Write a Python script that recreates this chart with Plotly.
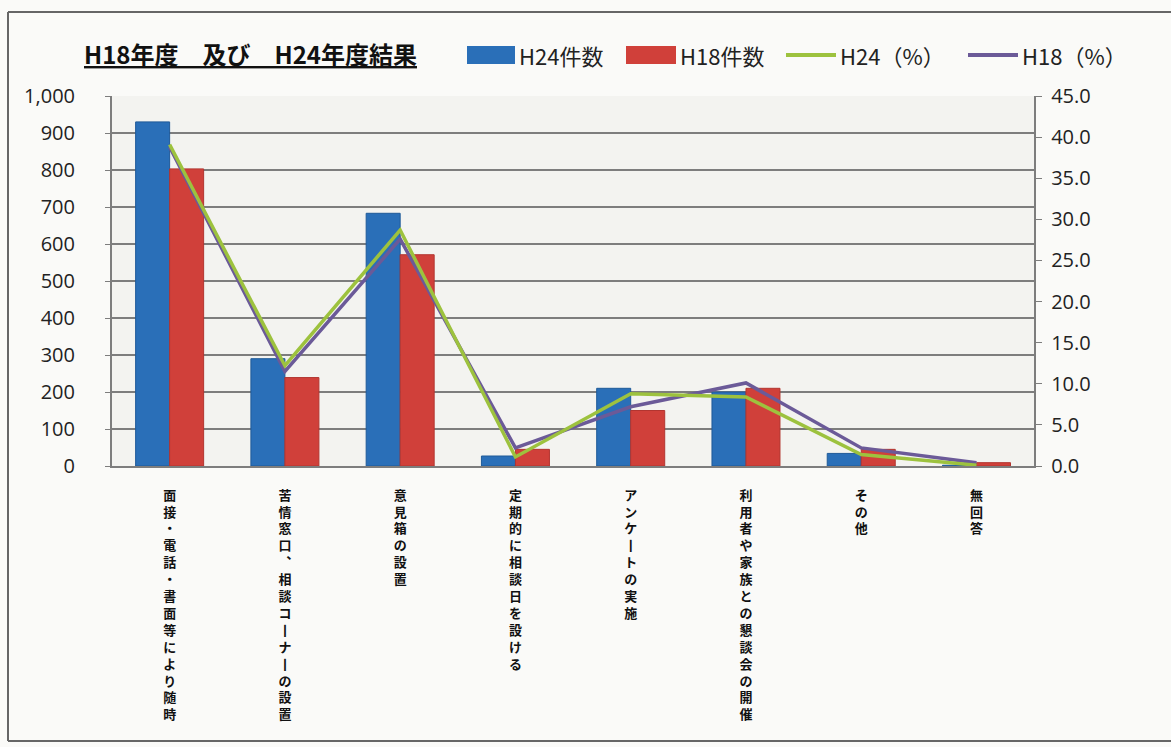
import plotly.graph_objects as go
from plotly.subplots import make_subplots

# ---- data ----
categories = [
    "面接・電話・書面等により随時",
    "苦情窓口、相談コーナーの設置",
    "意見箱の設置",
    "定期的に相談日を設ける",
    "アンケートの実施",
    "利用者や家族との懇談会の開催",
    "その他",
    "無回答",
]
h24_counts = [930, 290, 683, 27, 210, 200, 34, 2]
h18_counts = [803, 239, 571, 45, 150, 210, 45, 9]
h24_pct = [39.1, 12.2, 28.7, 1.1, 8.8, 8.4, 1.4, 0.1]
h18_pct = [38.8, 11.5, 27.6, 2.2, 7.2, 10.1, 2.2, 0.4]
count_ticks = [0, 100, 200, 300, 400, 500, 600, 700, 800, 900, 1000]
pct_ticks = [0, 5, 10, 15, 20, 25, 30, 35, 40, 45]

title_text = "H18年度　及び　H24年度結果"
legend_names = ["H24件数", "H18件数", "H24（%）", "H18（%）"]

# ---- styling ----
W, H = 1171, 747
ML, MR, MT, MB = 112, 78, 96, 281
PW, PH = W - ML - MR, H - MT - MB
BLUE, RED = "#2a6fb8", "#d0403a"
GREEN, PURPLE = "#9dc23e", "#6b5a98"
GRID = "#7d7d7d"
JP = "Noto Sans CJK JP"
NUM = "Open Sans"


def vertical(label):
    """Stack characters one per line, using upright forms for vertical text."""
    label = label.replace("ー", "丨").replace("、", "︑")
    return "<br>".join(label)


def px_x(x):
    return (x - ML) / PW


def px_y(y):
    return (H - MB - y) / PH


fig = make_subplots(specs=[[{"secondary_y": True}]])

fig.add_trace(go.Bar(x=categories, y=h24_counts, name=legend_names[0],
                     marker=dict(color=BLUE, line=dict(color="#1f5a98", width=1))),
              secondary_y=False)
fig.add_trace(go.Bar(x=categories, y=h18_counts, name=legend_names[1],
                     marker=dict(color=RED, line=dict(color="#b23530", width=1))),
              secondary_y=False)
fig.add_trace(go.Scatter(x=categories, y=h18_pct, name=legend_names[3], mode="lines",
                         line=dict(color=PURPLE, width=3.5)),
              secondary_y=True)
fig.add_trace(go.Scatter(x=categories, y=h24_pct, name=legend_names[2], mode="lines",
                         line=dict(color=GREEN, width=3.5)),
              secondary_y=True)

fig.update_layout(
    width=W, height=H,
    margin=dict(l=ML, r=MR, t=MT, b=MB),
    paper_bgcolor="#fafaf8",
    plot_bgcolor="#f3f3f0",
    barmode="group", bargap=0.41, bargroupgap=0,
    showlegend=False,
)

fig.update_xaxes(
    tickvals=categories,
    ticktext=[vertical(c) for c in categories],
    tickangle=0,
    tickfont=dict(family=JP, size=13, color="#111", weight="bold"),
    ticks="", ticklabelstandoff=16,
    showline=True, linecolor=GRID, linewidth=2,
    showgrid=False,
)
fig.update_yaxes(
    range=[0, 1000], tickvals=count_ticks, tickformat=",",
    tickfont=dict(family=NUM, size=20, color="#222"),
    ticks="outside", ticklen=5, tickcolor=GRID, ticklabelstandoff=26,
    showline=True, linecolor=GRID, linewidth=2,
    showgrid=True, gridcolor=GRID, gridwidth=2,
    zeroline=False,
    secondary_y=False,
)
fig.update_yaxes(
    range=[0, 45], tickvals=pct_ticks, tickformat=".1f",
    tickfont=dict(family=NUM, size=20, color="#222"),
    ticks="outside", ticklen=6, tickcolor=GRID, ticklabelstandoff=5,
    showline=True, linecolor=GRID, linewidth=2,
    showgrid=False, zeroline=False,
    secondary_y=True,
)

# title
fig.add_annotation(
    xref="paper", yref="paper", x=px_x(82), y=px_y(53),
    xanchor="left", yanchor="middle", showarrow=False,
    text="<b><u>" + title_text + "</u></b>",
    font=dict(family=JP, size=24, color="#111"),
)

# legend
shapes = []
legend_y = 55
items = [
    ("rect", BLUE, 467, 515, legend_names[0]),
    ("rect", RED, 626, 676, legend_names[1]),
    ("line", GREEN, 786, 836, legend_names[2]),
    ("line", PURPLE, 968, 1018, legend_names[3]),
]
for kind, color, x0, x1, label in items:
    if kind == "rect":
        shapes.append(dict(type="rect", xref="paper", yref="paper",
                           x0=px_x(x0), x1=px_x(x1),
                           y0=px_y(legend_y + 9), y1=px_y(legend_y - 9),
                           fillcolor=color, line=dict(width=0), layer="above"))
    else:
        shapes.append(dict(type="line", xref="paper", yref="paper",
                           x0=px_x(x0), x1=px_x(x1),
                           y0=px_y(legend_y), y1=px_y(legend_y),
                           line=dict(color=color, width=4), layer="above"))
    fig.add_annotation(
        xref="paper", yref="paper", x=px_x(x1 + 2), y=px_y(legend_y),
        xanchor="left", yanchor="middle", showarrow=False,
        text=label, font=dict(family=JP, size=22, color="#222"),
    )

# outer frame
for (x0, y0, x1, y1) in [(8, 12, 1180, 12), (8, 12, 8, 741), (8, 741, 1180, 741)]:
    shapes.append(dict(type="line", xref="paper", yref="paper",
                       x0=px_x(x0), x1=px_x(x1), y0=px_y(y0), y1=px_y(y1),
                       line=dict(color="#666", width=2), layer="above"))

fig.update_layout(shapes=shapes)

fig.write_html("out.html")
